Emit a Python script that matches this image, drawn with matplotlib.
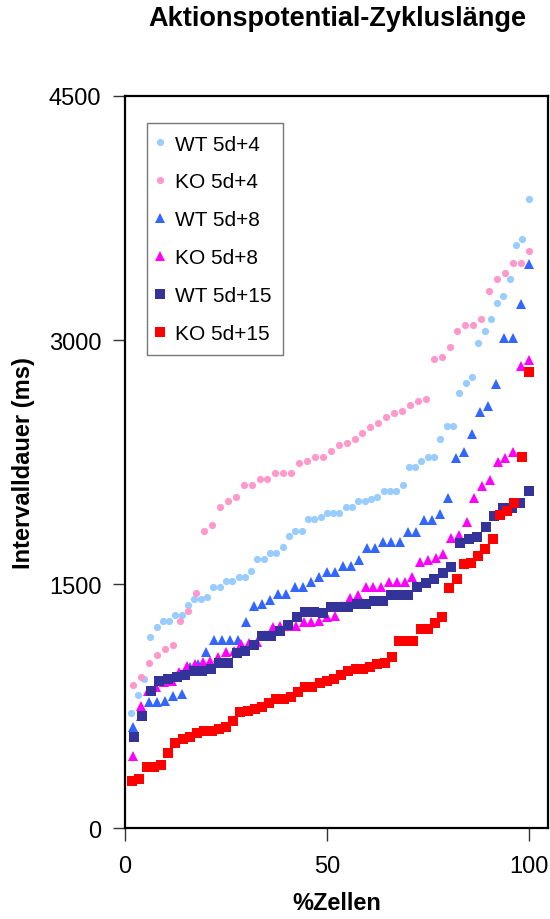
import numpy as np
import matplotlib.pyplot as plt

plt.rcParams['font.family'] = ['Liberation Sans', 'DejaVu Sans']

# sorted interval durations (ms) per group
wt_4 = [709, 819, 918, 1178, 1239, 1273, 1273, 1311, 1311, 1373, 1410, 1410, 1424,
        1485, 1485, 1520, 1520, 1547, 1547, 1584, 1656, 1656, 1691, 1691, 1731, 1793,
        1829, 1829, 1901, 1901, 1912, 1938, 1938, 1938, 1977, 1977, 2012, 2012, 2024,
        2038, 2074, 2074, 2074, 2110, 2223, 2223, 2260, 2284, 2284, 2393, 2469, 2469,
        2676, 2737, 2776, 2983, 3057, 3131, 3229, 3268, 3377, 3586, 3623, 3869]
ko_4 = [881, 932, 1016, 1065, 1102, 1129, 1276, 1338, 1446, 1828, 1865, 1975, 2012,
        2037, 2110, 2110, 2147, 2147, 2184, 2184, 2184, 2246, 2258, 2283, 2283, 2319,
        2356, 2369, 2393, 2430, 2467, 2491, 2528, 2552, 2565, 2602, 2626, 2638, 2884,
        2897, 2958, 3057, 3094, 3094, 3131, 3303, 3377, 3414, 3475, 3475, 3549]
wt_8 = [621, 690, 776, 776, 784, 811, 826, 991, 1010, 1082, 1158, 1158, 1158, 1158,
        1270, 1368, 1379, 1403, 1440, 1440, 1482, 1482, 1516, 1543, 1577, 1577, 1614,
        1614, 1649, 1723, 1723, 1758, 1758, 1758, 1821, 1821, 1893, 1893, 1932, 2032,
        2275, 2315, 2424, 2557, 2594, 2731, 3012, 3012, 3223, 3469]
ko_8 = [443, 750, 846, 867, 898, 907, 959, 996, 1010, 1020, 1030, 1051, 1084, 1092,
        1133, 1136, 1142, 1188, 1236, 1245, 1245, 1245, 1266, 1266, 1276, 1297, 1307,
        1368, 1414, 1434, 1482, 1482, 1482, 1516, 1516, 1516, 1543, 1639, 1649, 1662,
        1686, 1783, 1803, 1883, 2030, 2104, 2141, 2250, 2275, 2315, 2840, 2875]
wt_15 = [563, 687, 842, 907, 918, 932, 942, 965, 965, 979, 1016, 1016, 1078, 1088,
         1129, 1184, 1184, 1215, 1250, 1301, 1327, 1327, 1325, 1359, 1359, 1359, 1377,
         1377, 1397, 1397, 1434, 1434, 1434, 1482, 1506, 1531, 1569, 1604, 1752, 1778,
         1791, 1849, 1922, 1967, 1967, 1998, 2072]
ko_15 = [293, 303, 375, 375, 389, 463, 522, 549, 563, 586, 596, 596, 610, 621, 661,
         713, 719, 733, 744, 768, 795, 795, 809, 836, 867, 867, 891, 907, 918, 941,
         966, 981, 981, 992, 1007, 1016, 1053, 1153, 1153, 1153, 1227, 1227, 1262,
         1301, 1474, 1531, 1623, 1631, 1676, 1717, 1778, 1924, 1952, 2001, 2284, 2803]

labels = ['WT 5d+4', 'KO 5d+4', 'WT 5d+8', 'KO 5d+8', 'WT 5d+15', 'KO 5d+15']
series = [wt_4, ko_4, wt_8, ko_8, wt_15, ko_15]
colors = ['#99CCFF', '#FF99CC', '#3366FF', '#FF00FF', '#333399', '#FF0000']
markers = ['o', 'o', '^', '^', 's', 's']
sizes = [5.2, 5.2, 7.5, 7.5, 7.2, 7.2]


def percent_cells(values):
    # cumulative share of cells for the sorted values
    n = len(values)
    return np.arange(1, n + 1) / n * 100


fig = plt.figure(figsize=(5.5, 9.2), dpi=100)
ax = fig.add_axes([0.2273, 0.0986, 0.7685, 0.7960])

for vals, lab, col, mk, ms in zip(series, labels, colors, markers, sizes):
    ax.plot(percent_cells(vals), vals, linestyle='none', marker=mk, markersize=ms,
            color=col, markeredgewidth=0, label=lab)

ax.set_xlim(0, 104.7)
ax.set_ylim(0, 4500)
ax.set_xticks([0, 50, 100])
ax.set_yticks([0, 1500, 3000, 4500])
ax.tick_params(axis='both', direction='out', length=9, width=1, color='#333333',
               labelsize=17)
ax.tick_params(axis='x', pad=10)
ax.tick_params(axis='y', pad=8)
for sp in ax.spines.values():
    sp.set_linewidth(1.6)
    sp.set_color('black')

ax.set_xlabel('%Zellen', fontsize=17, fontweight='bold', labelpad=10)
ax.set_ylabel('Intervalldauer (ms)', fontsize=17, fontweight='bold', labelpad=10)
fig.text(0.614, 0.979, 'Aktionspotential-Zykluslänge', fontsize=19.5,
         fontweight='bold', ha='center', va='center')

leg = ax.legend(loc='upper left', bbox_to_anchor=(0.052, 0.963), borderaxespad=0,
                fontsize=15, frameon=True, fancybox=False, labelspacing=0.91,
                handlelength=0.15, handletextpad=0.65, borderpad=0.55, numpoints=1)
leg.get_frame().set_edgecolor('#555555')
leg.get_frame().set_linewidth(1.0)

fig.savefig('out.png', dpi=100)
